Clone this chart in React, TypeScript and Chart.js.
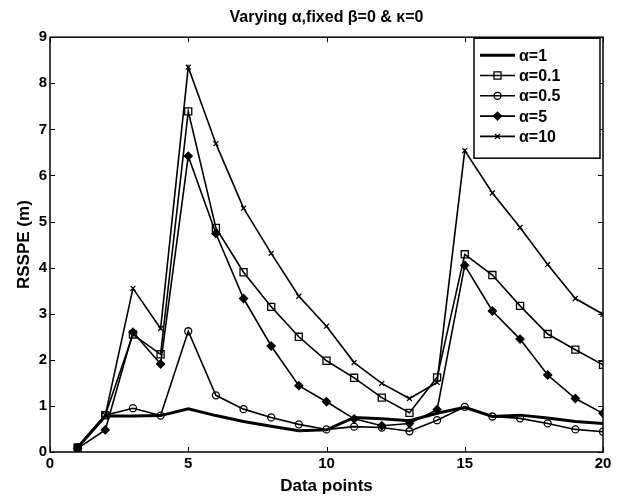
import React, { useEffect, useRef } from 'react';
import { Chart, registerables } from 'chart.js';

Chart.register(...registerables);

// ---- data ----
const xPoints = [1, 2, 3, 4, 5, 6, 7, 8, 9, 10, 11, 12, 13, 14, 15, 16, 17, 18, 19, 20];
const alpha1 = [0.1, 0.78, 0.78, 0.79, 0.94, 0.79, 0.66, 0.56, 0.46, 0.48, 0.75, 0.72, 0.68, 0.84, 0.97, 0.77, 0.8, 0.74, 0.66, 0.62];
const alpha01 = [0.1, 0.8, 2.55, 2.12, 7.39, 4.86, 3.9, 3.15, 2.5, 1.98, 1.61, 1.18, 0.85, 1.62, 4.29, 3.84, 3.17, 2.56, 2.22, 1.89];
const alpha05 = [0.1, 0.8, 0.95, 0.79, 2.62, 1.23, 0.93, 0.75, 0.6, 0.49, 0.55, 0.53, 0.45, 0.69, 0.98, 0.77, 0.73, 0.62, 0.49, 0.44];
const alpha5 = [0.08, 0.48, 2.6, 1.91, 6.42, 4.74, 3.33, 2.3, 1.44, 1.09, 0.72, 0.57, 0.62, 0.92, 4.05, 3.06, 2.45, 1.67, 1.16, 0.84];
const alpha10 = [0.1, 0.8, 3.55, 2.68, 8.35, 6.69, 5.29, 4.31, 3.38, 2.73, 1.94, 1.49, 1.16, 1.51, 6.54, 5.62, 4.87, 4.07, 3.33, 2.99];
const seriesLabels = ['α=1', 'α=0.1', 'α=0.5', 'α=5', 'α=10'];
const xTicks = [0, 5, 10, 15, 20];
const yTicks = [0, 1, 2, 3, 4, 5, 6, 7, 8, 9];

const FONT = '"Liberation Sans", Arial, Helvetica, sans-serif';

type Marker = 'none' | 'rect' | 'circle' | 'rectRot' | 'crossRot';

function drawMarker(ctx: CanvasRenderingContext2D, style: Marker, x: number, y: number, r: number) {
  ctx.save();
  ctx.strokeStyle = '#000';
  ctx.fillStyle = '#000';
  ctx.lineWidth = 1.3;
  ctx.beginPath();
  if (style === 'rect') {
    const s = r * Math.SQRT1_2;
    ctx.rect(x - s, y - s, 2 * s, 2 * s);
    ctx.stroke();
  } else if (style === 'circle') {
    ctx.arc(x, y, r, 0, Math.PI * 2);
    ctx.stroke();
  } else if (style === 'rectRot') {
    ctx.moveTo(x, y - r);
    ctx.lineTo(x + r, y);
    ctx.lineTo(x, y + r);
    ctx.lineTo(x - r, y);
    ctx.closePath();
    ctx.fill();
    ctx.stroke();
  } else if (style === 'crossRot') {
    const s = r * Math.SQRT1_2;
    ctx.moveTo(x - s, y - s);
    ctx.lineTo(x + s, y + s);
    ctx.moveTo(x + s, y - s);
    ctx.lineTo(x - s, y + s);
    ctx.stroke();
  }
  ctx.restore();
}

const seriesStyles: { marker: Marker; width: number; radius: number }[] = [
  { marker: 'none', width: 3, radius: 0 },
  { marker: 'rect', width: 1.6, radius: 5 },
  { marker: 'circle', width: 1.6, radius: 3.5 },
  { marker: 'rectRot', width: 1.6, radius: 4 },
  { marker: 'crossRot', width: 1.6, radius: 3.5 },
];

const framePlugin = {
  id: 'frameAndLegend',
  afterDraw(chart: any) {
    const { ctx, chartArea, scales } = chart;
    const { left, right, top, bottom } = chartArea;
    ctx.save();
    ctx.strokeStyle = '#000';
    ctx.lineWidth = 1.5;
    ctx.strokeRect(left, top, right - left, bottom - top);
    ctx.lineWidth = 1;
    const tl = 5;
    ctx.beginPath();
    xTicks.forEach((v) => {
      const px = Math.round(scales.x.getPixelForValue(v)) + 0.5;
      ctx.moveTo(px, bottom);
      ctx.lineTo(px, bottom - tl);
      ctx.moveTo(px, top);
      ctx.lineTo(px, top + tl);
    });
    yTicks.forEach((v) => {
      const py = Math.round(scales.y.getPixelForValue(v)) + 0.5;
      ctx.moveTo(left, py);
      ctx.lineTo(left + tl, py);
      ctx.moveTo(right, py);
      ctx.lineTo(right - tl, py);
    });
    ctx.stroke();

    // legend
    const bw = 126;
    const bh = 120;
    const bx = right - 3 - bw;
    const by = top + 1;
    ctx.fillStyle = '#fff';
    ctx.fillRect(bx, by, bw, bh);
    ctx.lineWidth = 1.5;
    ctx.strokeRect(bx, by, bw, bh);
    ctx.font = `bold 16px ${FONT}`;
    ctx.textBaseline = 'middle';
    ctx.textAlign = 'left';
    seriesLabels.forEach((lab, i) => {
      const cy = by + 17 + i * 20.3;
      const st = seriesStyles[i];
      ctx.beginPath();
      ctx.lineWidth = st.width;
      ctx.strokeStyle = '#000';
      ctx.moveTo(bx + 6, cy);
      ctx.lineTo(bx + 41, cy);
      ctx.stroke();
      if (st.marker !== 'none') drawMarker(ctx, st.marker, bx + 23.5, cy, st.radius);
      ctx.fillStyle = '#000';
      ctx.fillText(lab, bx + 45, cy + 1);
    });
    ctx.restore();
  },
};

export default function App() {
  const canvasRef = useRef<HTMLCanvasElement | null>(null);

  useEffect(() => {
    document.body.style.margin = '0';
    const canvas = canvasRef.current;
    if (!canvas) return;
    const allSeries = [alpha1, alpha01, alpha05, alpha5, alpha10];
    const datasets = allSeries.map((arr, i) => {
      const st = seriesStyles[i];
      return {
        label: seriesLabels[i],
        data: xPoints.map((x, j) => ({ x, y: arr[j] })),
        borderColor: '#000',
        borderWidth: st.width,
        pointStyle: st.marker === 'none' ? 'circle' : st.marker,
        pointRadius: st.radius,
        pointBorderColor: '#000',
        pointBackgroundColor: st.marker === 'rectRot' ? '#000' : 'rgba(0,0,0,0)',
        pointBorderWidth: 1.3,
        fill: false,
        tension: 0,
      };
    });
    const tickFont = { family: FONT, size: 15, weight: 'bold' as const };
    const axisTitleFont = { family: FONT, size: 17, weight: 'bold' as const };
    const chart = new Chart(canvas, {
      type: 'line',
      data: { datasets } as any,
      options: {
        animation: false,
        responsive: false,
        devicePixelRatio: 1,
        layout: { padding: { top: 0, right: 17, bottom: 0, left: 0 } },
        plugins: {
          legend: { display: false },
          tooltip: { enabled: false },
          title: {
            display: true,
            text: 'Varying α,fixed β=0 & κ=0',
            color: '#000',
            font: { family: FONT, size: 16, weight: 'bold' },
            padding: { top: 8, bottom: 10 },
            fullSize: false,
          },
        },
        scales: {
          x: {
            type: 'linear',
            min: 0,
            max: 20,
            afterFit(s: any) {
              s.height = 45;
            },
            grid: { display: false, drawTicks: false },
            border: { display: false },
            ticks: { stepSize: 5, padding: 3, color: '#000', font: tickFont, maxRotation: 0 },
            title: {
              display: true,
              text: 'Data points',
              color: '#000',
              font: axisTitleFont,
              padding: { top: 0, bottom: 0 },
            },
          },
          y: {
            type: 'linear',
            min: 0,
            max: 9,
            afterFit(s: any) {
              s.width = 50;
            },
            grid: { display: false, drawTicks: false },
            border: { display: false },
            ticks: { stepSize: 1, padding: 3, color: '#000', font: tickFont },
            title: {
              display: true,
              text: 'RSSPE (m)',
              color: '#000',
              font: axisTitleFont,
              padding: { top: 14, bottom: 0 },
            },
          },
        },
      } as any,
      plugins: [framePlugin],
    });
    return () => chart.destroy();
  }, []);

  return (
    <canvas
      ref={canvasRef}
      width={620}
      height={497}
      style={{ display: 'block', width: 620, height: 497 }}
    />
  );
}
